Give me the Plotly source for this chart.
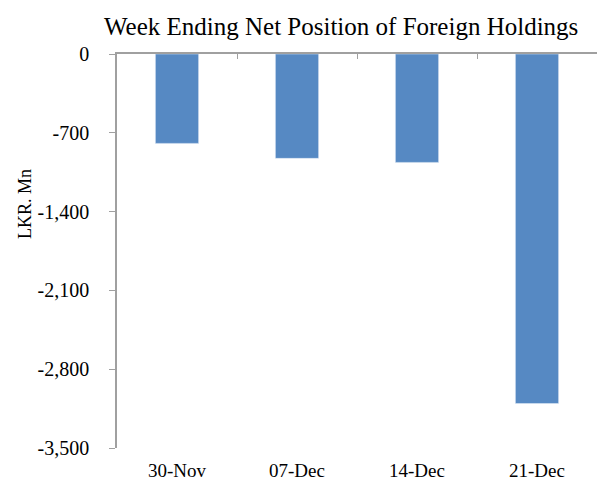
import plotly.graph_objects as go

categories = ["30-Nov", "07-Dec", "14-Dec", "21-Dec"]
net_position = [-794, -927, -963, -3105]
y_tick_values = [0, -700, -1400, -2100, -2800, -3500]
y_tick_labels = ["0", "-700", "-1,400", "-2,100", "-2,800", "-3,500"]

FONT = "Liberation Serif"
AXIS_COLOR = "#A0A0A0"
W, H = 598, 481
L, R, T, B = 117, 1, 54, 33

fig = go.Figure()
fig.add_trace(go.Bar(
    x=categories, y=net_position, xaxis="x", yaxis="y",
    marker=dict(color="#5689C3", line=dict(width=0)),
    width=0.36, hoverinfo="x+y",
))
fig.add_trace(go.Bar(
    x=categories, y=net_position, xaxis="x2", yaxis="y",
    marker=dict(color="rgba(0,0,0,0)"), width=0.36,
    hoverinfo="skip", showlegend=False,
))

fig.update_layout(
    width=W, height=H,
    margin=dict(l=L, r=R, t=T, b=B, pad=0, autoexpand=False),
    plot_bgcolor="white", paper_bgcolor="white",
    showlegend=False, barmode="overlay",
    font=dict(family=FONT, size=18, color="black"),
    xaxis=dict(
        type="category", categoryorder="array", categoryarray=categories,
        side="bottom", showline=False, ticks="", showgrid=False,
        zeroline=False, ticklabelstandoff=9, automargin=False,
        tickfont=dict(family=FONT, size=19),
    ),
    xaxis2=dict(
        type="category", categoryorder="array", categoryarray=categories,
        overlaying="x", matches="x", side="top", anchor="y",
        showline=True, linecolor=AXIS_COLOR, linewidth=1.5,
        ticks="inside", tickson="boundaries", ticklen=5,
        tickcolor=AXIS_COLOR, showticklabels=False, showgrid=False,
        automargin=False,
    ),
    yaxis=dict(
        range=[-3500, 0], tickvals=y_tick_values, ticktext=y_tick_labels,
        showline=True, linecolor=AXIS_COLOR, linewidth=1.5,
        ticks="outside", ticklen=6, tickcolor=AXIS_COLOR,
        showgrid=False, zeroline=False, ticklabelstandoff=16,
        automargin=False, tickfont=dict(family=FONT, size=20),
    ),
    annotations=[
        dict(text="Week Ending Net Position of Foreign Holdings",
             xref="paper", yref="paper",
             x=(341 - L) / (W - L - R), y=(H - 26 - B) / (H - T - B),
             xanchor="center", yanchor="middle", showarrow=False,
             font=dict(family=FONT, size=25)),
        dict(text="LKR. Mn", xref="paper", yref="paper",
             x=(25 - L) / (W - L - R), y=(H - 204 - B) / (H - T - B),
             xanchor="center", yanchor="middle", textangle=-90,
             showarrow=False, font=dict(family=FONT, size=18)),
    ],
)

fig.write_html(
    "out.html",
    config={"displayModeBar": False},
    post_script="document.body.style.margin='0';document.body.style.overflow='hidden';",
)
